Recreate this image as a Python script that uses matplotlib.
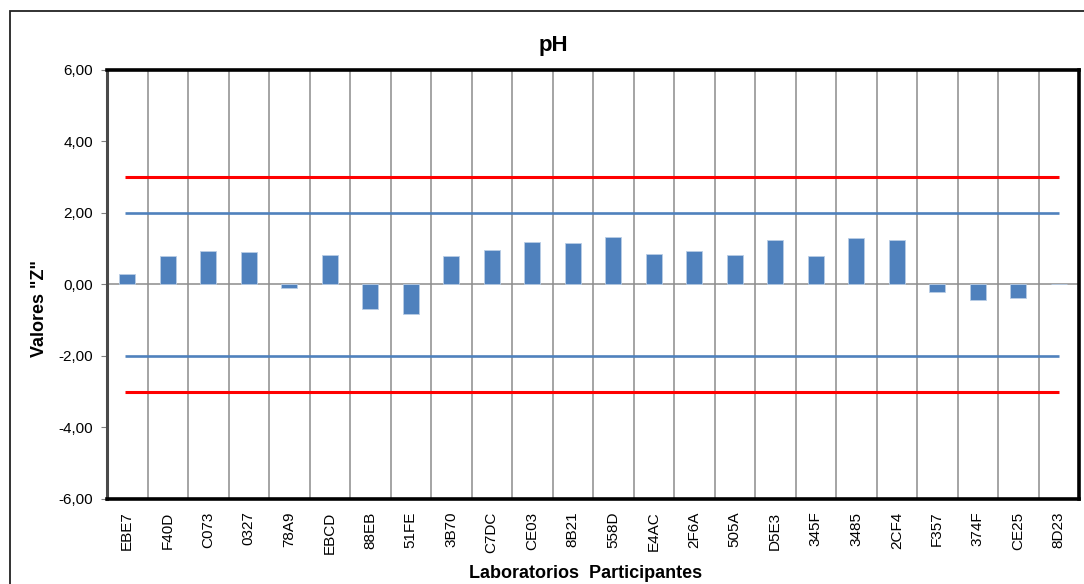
import numpy as np
import matplotlib.pyplot as plt
from matplotlib.patches import Rectangle

plt.rcParams["font.family"] = ["Liberation Sans", "DejaVu Sans"]

# ── data ─────────────────────────────────────────────────────────────────────
labs = ["EBE7", "F40D", "C073", "0327", "78A9", "EBCD", "88EB", "51FE",
        "3B70", "C7DC", "CE03", "8B21", "558D", "E4AC", "2F6A", "505A",
        "D5E3", "345F", "3485", "2CF4", "F357", "374F", "CE25", "8D23"]
z_vals = [0.29, 0.78, 0.92, 0.90, -0.09, 0.82, -0.68, -0.84,
          0.80, 0.97, 1.18, 1.15, 1.31, 0.84, 0.92, 0.82,
          1.23, 0.79, 1.28, 1.24, -0.22, -0.44, -0.37, 0.0]
lim_warn = 2.0
lim_act = 3.0
y_ticks = [-6, -4, -2, 0, 2, 4, 6]

# ── figure ──────────────────────────────────────────────────────────────────
fig = plt.figure(figsize=(10.84, 5.84), dpi=100)
ax = fig.add_axes([107 / 1084, 85 / 584, 972 / 1084, 429.4 / 584])

# outer chart frame (only left/top edges fall inside the picture)
fig.patches.append(Rectangle((10 / 1084, -0.2), 1.5, 1.2 - 11 / 584,
                             transform=fig.transFigure, fill=False,
                             edgecolor="#222222", lw=1.3, zorder=0))

x = np.arange(len(labs))
ax.bar(x, z_vals, width=0.4, color="#4F81BD", edgecolor="#B9CDE5",
       linewidth=0.6, zorder=3)

# limit lines from first to last category centre
for val, col, lw in [(lim_act, "#FF0000", 2.2), (-lim_act, "#FF0000", 2.2),
                     (lim_warn, "#4F81BD", 1.9), (-lim_warn, "#4F81BD", 1.9)]:
    ax.plot([x[0] - 0.05, x[-1]], [val, val], color=col, lw=lw, zorder=4,
            solid_capstyle="butt")

# vertical gridlines at category boundaries and zero line
for b in np.arange(0.5, len(labs) - 0.5, 1):
    ax.axvline(b, color="#8C8C8C", lw=1.1, zorder=1)
ax.axhline(0, color="#8C8C8C", lw=1.1, zorder=2)

ax.set_xlim(-0.5, len(labs) - 0.5)
ax.set_ylim(-6, 6)
ax.set_yticks(y_ticks)
ax.set_yticklabels([f"{v:.2f}".replace(".", ",") for v in y_ticks], fontsize=11)
ax.set_xticks(x)
ax.set_xticklabels(labs, rotation=90, fontsize=11)
ax.tick_params(axis="x", length=0, pad=9)
ax.tick_params(axis="y", length=4, width=0.8, color="#808080", pad=6)

for side in ["top", "bottom", "right"]:
    ax.spines[side].set_linewidth(2.6)
    ax.spines[side].set_color("black")
ax.spines["left"].set_linewidth(2.2)
ax.spines["left"].set_color("#4A4A4A")

fig.text(553 / 1084, 1 - 45 / 584, "pH", ha="center", va="center",
         fontsize=16, fontweight="bold")
fig.text(586 / 1084, 1 - 573 / 584, "Laboratorios  Participantes",
         ha="center", va="center", fontsize=13, fontweight="bold")
fig.text(40 / 1084, 1 - 309 / 584, 'Valores "Z"', ha="center", va="center",
         rotation=90, fontsize=13, fontweight="bold")

plt.savefig("out.png", dpi=100)
